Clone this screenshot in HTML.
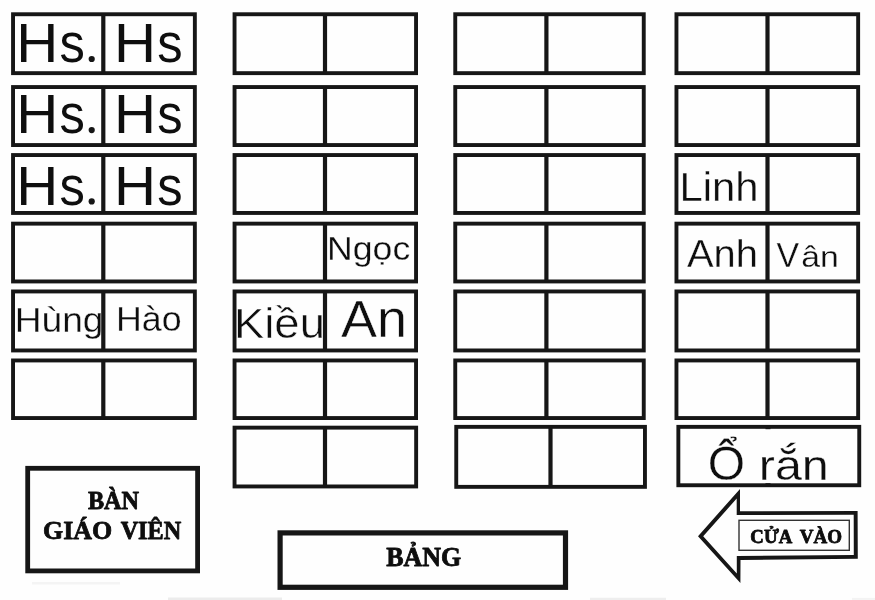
<!DOCTYPE html>
<html lang="vi"><head><meta charset="utf-8"><title>Sơ đồ lớp học</title>
<style>
html,body{margin:0;padding:0;background:#fefefe;}
body{width:875px;height:600px;overflow:hidden;font-family:"Liberation Sans",sans-serif;}
svg{display:block;filter:blur(0.5px)}
</style></head><body>
<svg width="875" height="600" viewBox="0 0 875 600">
<rect width="875" height="600" fill="#fefefe"/>
<!-- handwritten-style names (drawn beneath desk outlines) -->
<g><text transform="translate(14.83,331.50) scale(1.0852,1)" font-family="Liberation Sans" font-size="34.16" fill="#0e0e0e" stroke="#fefefe" stroke-width="0.30">Hùng</text></g>
<g><text transform="translate(115.94,331.30) scale(1.0478,1)" font-family="Liberation Sans" font-size="34.16" fill="#0e0e0e" stroke="#fefefe" stroke-width="0.30">Hào</text></g>
<g><text transform="translate(327.05,259.80) scale(1.0758,1)" font-family="Liberation Sans" font-size="33.14" fill="#0e0e0e" stroke="#fefefe" stroke-width="0.25">Ngọc</text></g>
<g><text transform="translate(233.96,338.40) scale(1.0602,1)" font-family="Liberation Sans" font-size="42.88" fill="#0e0e0e" stroke="#fefefe" stroke-width="0.50">Kiều</text></g>
<g><text transform="translate(341.00,337.30) scale(1.0595,1)" font-family="Liberation Sans" font-size="51.02" fill="#0e0e0e" stroke="#fefefe" stroke-width="0.45">An</text></g>
<g><text transform="translate(679.46,200.90) scale(1.0413,1)" font-family="Liberation Sans" font-size="40.12" fill="#0e0e0e" stroke="#fefefe" stroke-width="0.30">Linh</text></g>
<g><text transform="translate(686.90,266.70) scale(1.0409,1)" font-family="Liberation Sans" font-size="38.37" fill="#0e0e0e" stroke="#fefefe" stroke-width="0.30">Anh</text></g>
<g><text transform="translate(776.56,266.60) scale(0.9743,1)" font-family="Liberation Sans" font-size="34.74" fill="#0e0e0e" stroke="#fefefe" stroke-width="0.28">V</text><text transform="translate(801.15,266.60) scale(1.1254,1)" font-family="Liberation Sans" font-size="30.00" fill="#0e0e0e" stroke="#fefefe" stroke-width="0.28">ân</text></g>
<g><text transform="translate(707.70,480.40) scale(1.0149,1)" font-family="Liberation Sans" font-size="47.24" fill="#0e0e0e" stroke="#fefefe" stroke-width="0.28">Ổ</text><text transform="translate(758.81,480.40) scale(1.1201,1)" font-family="Liberation Sans" font-size="43.21" fill="#0e0e0e" stroke="#fefefe" stroke-width="0.28"> rắn</text></g>
<!-- student desks: 4 columns x 6 rows -->
<rect x="13.05" y="14.25" width="181.80" height="58.90" fill="none" stroke="#161616" stroke-width="3.9" stroke-linejoin="miter"/>
<line x1="103.30" y1="14.25" x2="103.30" y2="73.15" stroke="#161616" stroke-width="4.2"/>
<rect x="13.05" y="87.05" width="181.80" height="58.00" fill="none" stroke="#161616" stroke-width="3.9" stroke-linejoin="miter"/>
<line x1="103.30" y1="87.05" x2="103.30" y2="145.05" stroke="#161616" stroke-width="4.2"/>
<rect x="13.05" y="155.05" width="181.80" height="57.90" fill="none" stroke="#161616" stroke-width="3.9" stroke-linejoin="miter"/>
<line x1="103.30" y1="155.05" x2="103.30" y2="212.95" stroke="#161616" stroke-width="4.2"/>
<rect x="13.05" y="223.65" width="181.80" height="57.80" fill="none" stroke="#161616" stroke-width="3.9" stroke-linejoin="miter"/>
<line x1="103.30" y1="223.65" x2="103.30" y2="281.45" stroke="#161616" stroke-width="4.2"/>
<rect x="13.05" y="291.45" width="181.80" height="59.00" fill="none" stroke="#161616" stroke-width="3.9" stroke-linejoin="miter"/>
<line x1="103.30" y1="291.45" x2="103.30" y2="350.45" stroke="#161616" stroke-width="4.2"/>
<rect x="13.05" y="360.45" width="181.80" height="57.60" fill="none" stroke="#161616" stroke-width="3.9" stroke-linejoin="miter"/>
<line x1="103.30" y1="360.45" x2="103.30" y2="418.05" stroke="#161616" stroke-width="4.2"/>
<rect x="234.55" y="14.25" width="181.50" height="58.90" fill="none" stroke="#161616" stroke-width="3.9" stroke-linejoin="miter"/>
<line x1="325.00" y1="14.25" x2="325.00" y2="73.15" stroke="#161616" stroke-width="4.2"/>
<rect x="234.55" y="87.05" width="181.50" height="58.00" fill="none" stroke="#161616" stroke-width="3.9" stroke-linejoin="miter"/>
<line x1="325.00" y1="87.05" x2="325.00" y2="145.05" stroke="#161616" stroke-width="4.2"/>
<rect x="234.55" y="155.05" width="181.50" height="57.90" fill="none" stroke="#161616" stroke-width="3.9" stroke-linejoin="miter"/>
<line x1="325.00" y1="155.05" x2="325.00" y2="212.95" stroke="#161616" stroke-width="4.2"/>
<rect x="234.55" y="223.65" width="181.50" height="57.80" fill="none" stroke="#161616" stroke-width="3.9" stroke-linejoin="miter"/>
<line x1="325.00" y1="223.65" x2="325.00" y2="281.45" stroke="#161616" stroke-width="4.2"/>
<rect x="234.55" y="291.45" width="181.50" height="59.00" fill="none" stroke="#161616" stroke-width="3.9" stroke-linejoin="miter"/>
<line x1="325.00" y1="291.45" x2="325.00" y2="350.45" stroke="#161616" stroke-width="4.2"/>
<rect x="234.55" y="360.45" width="181.50" height="57.60" fill="none" stroke="#161616" stroke-width="3.9" stroke-linejoin="miter"/>
<line x1="325.00" y1="360.45" x2="325.00" y2="418.05" stroke="#161616" stroke-width="4.2"/>
<rect x="455.25" y="14.25" width="188.50" height="58.90" fill="none" stroke="#161616" stroke-width="3.9" stroke-linejoin="miter"/>
<line x1="546.40" y1="14.25" x2="546.40" y2="73.15" stroke="#161616" stroke-width="4.2"/>
<rect x="455.25" y="87.05" width="188.50" height="58.00" fill="none" stroke="#161616" stroke-width="3.9" stroke-linejoin="miter"/>
<line x1="546.40" y1="87.05" x2="546.40" y2="145.05" stroke="#161616" stroke-width="4.2"/>
<rect x="455.25" y="155.05" width="188.50" height="57.90" fill="none" stroke="#161616" stroke-width="3.9" stroke-linejoin="miter"/>
<line x1="546.40" y1="155.05" x2="546.40" y2="212.95" stroke="#161616" stroke-width="4.2"/>
<rect x="455.25" y="223.65" width="188.50" height="57.80" fill="none" stroke="#161616" stroke-width="3.9" stroke-linejoin="miter"/>
<line x1="546.40" y1="223.65" x2="546.40" y2="281.45" stroke="#161616" stroke-width="4.2"/>
<rect x="455.25" y="291.45" width="188.50" height="59.00" fill="none" stroke="#161616" stroke-width="3.9" stroke-linejoin="miter"/>
<line x1="546.40" y1="291.45" x2="546.40" y2="350.45" stroke="#161616" stroke-width="4.2"/>
<rect x="455.25" y="360.45" width="188.50" height="57.60" fill="none" stroke="#161616" stroke-width="3.9" stroke-linejoin="miter"/>
<line x1="546.40" y1="360.45" x2="546.40" y2="418.05" stroke="#161616" stroke-width="4.2"/>
<rect x="676.45" y="14.25" width="181.70" height="58.90" fill="none" stroke="#161616" stroke-width="3.9" stroke-linejoin="miter"/>
<line x1="767.50" y1="14.25" x2="767.50" y2="73.15" stroke="#161616" stroke-width="4.2"/>
<rect x="676.45" y="87.05" width="181.70" height="58.00" fill="none" stroke="#161616" stroke-width="3.9" stroke-linejoin="miter"/>
<line x1="767.50" y1="87.05" x2="767.50" y2="145.05" stroke="#161616" stroke-width="4.2"/>
<rect x="676.45" y="155.05" width="181.70" height="57.90" fill="none" stroke="#161616" stroke-width="3.9" stroke-linejoin="miter"/>
<line x1="767.50" y1="155.05" x2="767.50" y2="212.95" stroke="#161616" stroke-width="4.2"/>
<rect x="676.45" y="223.65" width="181.70" height="57.80" fill="none" stroke="#161616" stroke-width="3.9" stroke-linejoin="miter"/>
<line x1="767.50" y1="223.65" x2="767.50" y2="281.45" stroke="#161616" stroke-width="4.2"/>
<rect x="676.45" y="291.45" width="181.70" height="59.00" fill="none" stroke="#161616" stroke-width="3.9" stroke-linejoin="miter"/>
<line x1="767.50" y1="291.45" x2="767.50" y2="350.45" stroke="#161616" stroke-width="4.2"/>
<rect x="676.45" y="360.45" width="181.70" height="57.60" fill="none" stroke="#161616" stroke-width="3.9" stroke-linejoin="miter"/>
<line x1="767.50" y1="360.45" x2="767.50" y2="418.05" stroke="#161616" stroke-width="4.2"/>
<!-- 7th row -->
<rect x="234.55" y="427.65" width="181.60" height="58.80" fill="none" stroke="#161616" stroke-width="3.9" stroke-linejoin="miter"/>
<line x1="325.00" y1="427.65" x2="325.00" y2="486.45" stroke="#161616" stroke-width="4.2"/>
<rect x="456.25" y="426.85" width="188.70" height="60.00" fill="none" stroke="#161616" stroke-width="3.9" stroke-linejoin="miter"/>
<line x1="550.50" y1="426.85" x2="550.50" y2="486.85" stroke="#161616" stroke-width="4.2"/>
<rect x="678.35" y="426.85" width="180.90" height="58.40" fill="none" stroke="#161616" stroke-width="3.9" stroke-linejoin="miter"/>
<rect x="765.5" y="426" width="5" height="3.2" fill="#161616"/>
<rect x="765.5" y="483.2" width="5" height="3.2" fill="#161616"/>
<!-- faint scan artefacts along bottom edge -->
<line x1="32" y1="583.2" x2="120" y2="583.2" stroke="#f4f4f4" stroke-width="2.4"/>
<line x1="168" y1="598.8" x2="282" y2="598.8" stroke="#ececec" stroke-width="2.6"/>
<line x1="590" y1="598.9" x2="666" y2="598.9" stroke="#eeeeee" stroke-width="2.4"/>
<line x1="852" y1="598.9" x2="875" y2="598.9" stroke="#f3f3f3" stroke-width="2.0"/>
<!-- teacher desk + board -->
<rect x="27.70" y="468.30" width="169.90" height="102.60" fill="none" stroke="#161616" stroke-width="4.8" stroke-linejoin="miter"/>
<rect x="280.10" y="532.90" width="285.40" height="54.40" fill="none" stroke="#161616" stroke-width="5.2" stroke-linejoin="miter"/>
<!-- entrance arrow -->
<polygon points="698.0,536.2 740.0,488.9 740.0,511.3 857.6,511.0 857.8,558.7 740.5,559.9 740.4,583.1" fill="#161616"/>
<polygon points="703.2,536.2 736.7,498.6 736.7,515.1 853.7,514.8 853.8,555.1 736.8,555.9 736.8,573.5" fill="#fefefe"/>
<rect x="739.0" y="520.3" width="110.3" height="30.0" fill="#fefefe" stroke="#333" stroke-width="1.4"/>
<circle cx="91.7" cy="59.00" r="3.1" fill="#161616"/>
<circle cx="91.7" cy="130.10" r="3.1" fill="#161616"/>
<circle cx="91.7" cy="201.40" r="3.1" fill="#161616"/>
<!-- remaining labels -->
<g><text transform="translate(16.14,62.10) scale(1.0376,1)" font-family="Liberation Sans" font-size="56.10" fill="#0e0e0e">H</text><text transform="translate(59.48,62.10) scale(0.9036,1)" font-family="Liberation Sans" font-size="56.10" fill="#0e0e0e">s</text><text transform="translate(83.02,62.10) scale(1.1051,1)" font-family="Liberation Sans" font-size="56.10" fill="none">.</text></g>
<g><text transform="translate(113.94,62.10) scale(1.0376,1)" font-family="Liberation Sans" font-size="56.10" fill="#0e0e0e">H</text><text transform="translate(157.18,62.10) scale(0.9036,1)" font-family="Liberation Sans" font-size="56.10" fill="#0e0e0e">s</text></g>
<g><text transform="translate(16.14,133.20) scale(1.0540,1)" font-family="Liberation Sans" font-size="55.23" fill="#0e0e0e">H</text><text transform="translate(59.48,133.20) scale(0.9179,1)" font-family="Liberation Sans" font-size="55.23" fill="#0e0e0e">s</text><text transform="translate(83.02,133.20) scale(1.1225,1)" font-family="Liberation Sans" font-size="55.23" fill="none">.</text></g>
<g><text transform="translate(113.94,133.20) scale(1.0540,1)" font-family="Liberation Sans" font-size="55.23" fill="#0e0e0e">H</text><text transform="translate(157.18,133.20) scale(0.9179,1)" font-family="Liberation Sans" font-size="55.23" fill="#0e0e0e">s</text></g>
<g><text transform="translate(16.14,204.50) scale(1.0512,1)" font-family="Liberation Sans" font-size="55.38" fill="#0e0e0e">H</text><text transform="translate(59.48,204.50) scale(0.9155,1)" font-family="Liberation Sans" font-size="55.38" fill="#0e0e0e">s</text><text transform="translate(83.02,204.50) scale(1.1196,1)" font-family="Liberation Sans" font-size="55.38" fill="none">.</text></g>
<g><text transform="translate(113.94,204.50) scale(1.0512,1)" font-family="Liberation Sans" font-size="55.38" fill="#0e0e0e">H</text><text transform="translate(157.18,204.50) scale(0.9155,1)" font-family="Liberation Sans" font-size="55.38" fill="#0e0e0e">s</text></g>
<g><text transform="translate(87.92,508.60) scale(0.9678,1)" font-family="Liberation Serif" font-weight="bold" font-size="25.04" fill="#0e0e0e" stroke="#0c0c0c" stroke-width="0.827" stroke-linejoin="round">BÀN</text></g>
<g><text transform="translate(43.10,538.50) scale(1.0429,1)" font-family="Liberation Serif" font-weight="bold" font-size="24.89" fill="#0e0e0e" stroke="#0c0c0c" stroke-width="0.767" stroke-linejoin="round">GIÁO</text><text transform="translate(120.66,538.50) scale(0.9722,1)" font-family="Liberation Serif" font-weight="bold" font-size="24.89" fill="#0e0e0e" stroke="#0c0c0c" stroke-width="0.823" stroke-linejoin="round"> VIÊN</text></g>
<g><text transform="translate(386.18,565.70) scale(0.9496,1)" font-family="Liberation Serif" font-weight="bold" font-size="27.33" fill="#0e0e0e" stroke="#0c0c0c" stroke-width="0.842" stroke-linejoin="round">BẢNG</text></g>
<g><text transform="translate(750.36,543.10) scale(0.9676,1)" font-family="Liberation Serif" font-weight="bold" font-size="19.39" fill="#0e0e0e" stroke="#0c0c0c" stroke-width="0.827" stroke-linejoin="round">CỬA</text><text transform="translate(799.81,543.10) scale(0.9814,1)" font-family="Liberation Serif" font-weight="bold" font-size="19.39" fill="#0e0e0e" stroke="#0c0c0c" stroke-width="0.815" stroke-linejoin="round"> VÀO</text></g>
</svg>
</body></html>
